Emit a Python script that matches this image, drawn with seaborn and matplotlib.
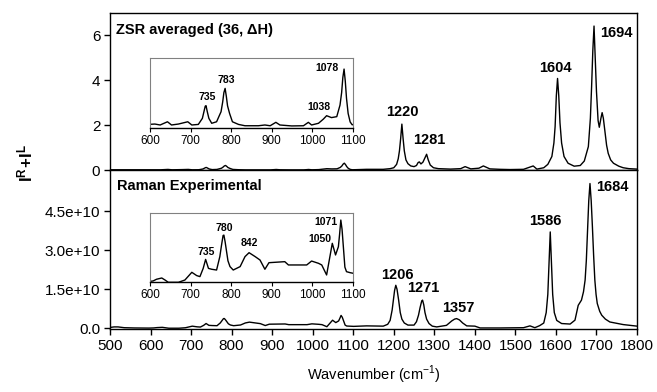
import numpy as np
import pandas as pd
import matplotlib
matplotlib.use("Agg")
import matplotlib.pyplot as plt
import seaborn as sns

# ---------------- data ----------------
zsr_wavenumber = [500, 530, 560, 596, 612, 625, 643, 653, 670, 678, 693, 703, 719, 729, 733, 736,
                  738, 741, 745, 752, 764, 775, 779, 782, 785, 788, 791, 796, 803, 818, 834, 867,
                  883, 896, 910, 920, 949, 978, 990, 998, 1015, 1027, 1035, 1047, 1060, 1068, 1072,
                  1075, 1078, 1081, 1084, 1088, 1093, 1098, 1133, 1174, 1191, 1200, 1207, 1211,
                  1214, 1217, 1220, 1223, 1226, 1230, 1235, 1242, 1250, 1256, 1260, 1263, 1267,
                  1272, 1277, 1281, 1285, 1290, 1298, 1310, 1340, 1365, 1376, 1390, 1410, 1421,
                  1437, 1462, 1487, 1520, 1544, 1553, 1570, 1580, 1590, 1595, 1598, 1601, 1604,
                  1607, 1610, 1614, 1620, 1630, 1645, 1660, 1670, 1680, 1685, 1688, 1691, 1694,
                  1697, 1700, 1704, 1707, 1711, 1714, 1717, 1721, 1725, 1729, 1735, 1742, 1755,
                  1766, 1780, 1800]
zsr_intensity = [0.01, 0.01, 0.012, 0.012, 0.014, 0.009, 0.026, 0.009, 0.014, 0.018, 0.026, 0.009,
                 0.012, 0.044, 0.08, 0.108, 0.111, 0.08, 0.044, 0.018, 0.026, 0.079, 0.13, 0.18,
                 0.202, 0.16, 0.11, 0.07, 0.026, 0.012, 0.005, 0.005, 0.009, 0.005, 0.023, 0.009,
                 0.004, 0.005, 0.023, 0.009, 0.018, 0.040, 0.058, 0.048, 0.053, 0.114, 0.18, 0.26,
                 0.304, 0.24, 0.15, 0.07, 0.025, 0.01, 0.03, 0.03, 0.06, 0.1, 0.25, 0.5, 0.85, 1.4,
                 2.04, 1.4, 0.85, 0.45, 0.28, 0.18, 0.15, 0.2, 0.33, 0.36, 0.27, 0.35, 0.55, 0.70,
                 0.45, 0.22, 0.1, 0.06, 0.04, 0.06, 0.15, 0.05, 0.08, 0.18, 0.05, 0.03, 0.02, 0.03,
                 0.18, 0.04, 0.1, 0.25, 0.6, 1.2, 1.93, 3.3, 4.07, 3.3, 2.1, 1.2, 0.6, 0.3, 0.17,
                 0.2, 0.4, 1.04, 2.3, 3.7, 5.3, 6.4, 5.0, 3.5, 2.2, 1.9, 2.3, 2.55, 2.3, 1.7, 1.1,
                 0.74, 0.45, 0.3, 0.17, 0.1, 0.06, 0.04]

raman_wavenumber = [500, 510, 520, 535, 560, 596, 608, 616, 629, 637, 645, 670, 686, 703, 715, 723,
                    731, 737, 744, 752, 764, 772, 776, 780, 782, 785, 788, 792, 797, 805, 822, 834,
                    844, 859, 871, 883, 893, 916, 932, 941, 965, 986, 998, 1015, 1023, 1035, 1043,
                    1049, 1057, 1064, 1067, 1070, 1073, 1077, 1080, 1084, 1093, 1101, 1133, 1174,
                    1185, 1191, 1196, 1199, 1202, 1205, 1208, 1212, 1216, 1220, 1226, 1235, 1250,
                    1256, 1261, 1265, 1269, 1271, 1274, 1277, 1281, 1287, 1295, 1306, 1330, 1343,
                    1350, 1355, 1362, 1370, 1380, 1400, 1413, 1462, 1520, 1536, 1548, 1560, 1570,
                    1576, 1580, 1583, 1586, 1589, 1592, 1596, 1602, 1614, 1635, 1647, 1655, 1663,
                    1668, 1672, 1675, 1678, 1681, 1684, 1687, 1690, 1693, 1696, 1699, 1702, 1708,
                    1713, 1722, 1733, 1766, 1800]
raman_intensity_e10 = [0.03, 0.05, 0.05, 0.02, 0.01, 0.005, 0.011, 0.024, 0.034, 0.018, 0.0, 0.0,
                       0.018, 0.079, 0.053, 0.045, 0.11, 0.181, 0.110, 0.103, 0.097, 0.203, 0.29,
                       0.37, 0.373, 0.32, 0.255, 0.17, 0.124, 0.097, 0.124, 0.203, 0.234, 0.203,
                       0.176, 0.103, 0.155, 0.160, 0.163, 0.137, 0.137, 0.137, 0.168, 0.150, 0.137,
                       0.058, 0.203, 0.308, 0.216, 0.281, 0.38, 0.492, 0.42, 0.25, 0.12, 0.084,
                       0.076, 0.071, 0.09, 0.08, 0.15, 0.3, 0.7, 1.08, 1.45, 1.65, 1.5, 1.08, 0.6,
                       0.35, 0.2, 0.12, 0.12, 0.25, 0.5, 0.8, 1.05, 1.08, 0.9, 0.6, 0.35, 0.18, 0.08,
                       0.05, 0.11, 0.28, 0.35, 0.37, 0.32, 0.2, 0.09, 0.08, 0.01, 0.01, 0.02, 0.09,
                       0.02, 0.1, 0.2, 0.6, 1.3, 2.5, 3.7, 2.5, 1.3, 0.6, 0.3, 0.18, 0.16, 0.31, 0.88,
                       1.08, 1.4, 1.85, 2.6, 3.77, 4.9, 5.56, 4.9, 3.9, 2.8, 1.85, 1.3, 0.95, 0.65,
                       0.5, 0.35, 0.24, 0.14, 0.08]

# peak annotations: (label, x, y)
zsr_peaks = [("1220", 1220, 2.58), ("1281", 1287, 1.33), ("1604", 1600, 4.53)]
zsr_peak_right = ("1694", 1710, 6.09)
raman_peaks_e10 = [("1206", 1208, 2.04), ("1271", 1272, 1.54), ("1357", 1358, 0.77), ("1586", 1575, 4.12)]
raman_peak_right = ("1684", 1700, 5.42)
zsr_inset_peaks = [("735", 740, 0.158), ("783", 789, 0.246), ("1038", 1016, 0.102), ("1078", 1035, 0.31)]
raman_inset_peaks_e10 = [("735", 738, 0.242), ("780", 783, 0.426), ("842", 845, 0.308),
                         ("1050", 1019, 0.339), ("1071", 1034, 0.479)]

x_ticks = list(range(500, 1801, 100))
zsr_yticks = [0, 2, 4, 6]
raman_yticks_e10 = [0, 1.5, 3.0, 4.5]
raman_ytick_labels = ["0.0", "1.5e+10", "3.0e+10", "4.5e+10"]
inset_xticks = [600, 700, 800, 900, 1000, 1100]

# ---------------- frames ----------------
zsr = pd.DataFrame({"wavenumber": zsr_wavenumber, "intensity": zsr_intensity})
raman = pd.DataFrame({"wavenumber": raman_wavenumber,
                      "intensity": np.array(raman_intensity_e10) * 1e10})

sns.set_style("white")
plt.rcParams["font.family"] = ["Liberation Sans", "DejaVu Sans"]
plt.rcParams["mathtext.fontset"] = "custom"
plt.rcParams["mathtext.rm"] = "Liberation Sans"
plt.rcParams["mathtext.bf"] = "Liberation Sans:bold"
for k in ("text.color", "axes.labelcolor", "xtick.color", "ytick.color", "axes.edgecolor"):
    plt.rcParams[k] = "black"

W, H = 657, 392
fig = plt.figure(figsize=(W / 100, H / 100), dpi=100)

def fax(l, t, r, b):
    return fig.add_axes([l / W, 1 - b / H, (r - l) / W, (b - t) / H])

ax_top = fax(110, 13, 637, 170)
ax_bot = fax(110, 170, 637, 329)

lw = 1.0
sns.lineplot(data=zsr, x="wavenumber", y="intensity", ax=ax_top, color="black",
             linewidth=lw, estimator=None, sort=False)
sns.lineplot(data=raman, x="wavenumber", y="intensity", ax=ax_bot, color="black",
             linewidth=lw, estimator=None, sort=False)

for ax in (ax_top, ax_bot):
    ax.set_xlim(500, 1800)
    ax.set_xlabel("")
    ax.set_ylabel("")
    for s in ax.spines.values():
        s.set_color("black")
        s.set_linewidth(1.0)
    ax.tick_params(axis="y", direction="out", length=4, width=1, color="black",
                   labelsize=11, pad=3, left=True)

ax_top.set_ylim(0, 6.98)
ax_top.set_yticks(zsr_yticks)
ax_top.set_yticklabels([str(v) for v in zsr_yticks])
ax_top.set_xticks(x_ticks)
ax_top.tick_params(axis="x", bottom=False, labelbottom=False)

ax_bot.set_ylim(-0.03e10, 6.08e10)
ax_bot.set_yticks([v * 1e10 for v in raman_yticks_e10])
ax_bot.set_yticklabels(raman_ytick_labels)
ax_bot.set_xticks(x_ticks)
ax_bot.set_xticklabels([str(v) for v in x_ticks])
ax_bot.tick_params(axis="x", direction="out", length=4, width=1, bottom=True,
                   labelsize=11, pad=3)
ax_bot.set_xlabel("Wavenumber (cm$^{-1}$)", fontsize=10.5, labelpad=8)

ax_top.text(0.011, 0.89, "ZSR averaged (36, \u0394H)", transform=ax_top.transAxes,
            fontsize=10.5, fontweight="bold", ha="left", va="center")
ax_bot.text(0.013, 0.90, "Raman Experimental", transform=ax_bot.transAxes,
            fontsize=10.5, fontweight="bold", ha="left", va="center")

for lab, x, y in zsr_peaks:
    ax_top.text(x, y, lab, fontsize=10.5, fontweight="bold", ha="center", va="center")
ax_top.text(zsr_peak_right[1], zsr_peak_right[2], zsr_peak_right[0], fontsize=10.5,
            fontweight="bold", ha="left", va="center")
for lab, x, y in raman_peaks_e10:
    ax_bot.text(x, y * 1e10, lab, fontsize=10.5, fontweight="bold", ha="center", va="center")
ax_bot.text(raman_peak_right[1], raman_peak_right[2] * 1e10, raman_peak_right[0], fontsize=10.5,
            fontweight="bold", ha="left", va="center")

fig.text(25 / W, 1 - 163 / H, r"$\mathbf{I^R\!+\!I^L}$", rotation=90, fontsize=12,
         ha="center", va="center")

# ---------------- insets ----------------
in_top = fax(150, 57.7, 353, 127.7)
in_bot = fax(150, 212.7, 353, 282.3)

sns.lineplot(data=zsr, x="wavenumber", y="intensity", ax=in_top, color="black",
             linewidth=lw, estimator=None, sort=False)
sns.lineplot(data=raman, x="wavenumber", y="intensity", ax=in_bot, color="black",
             linewidth=lw, estimator=None, sort=False)
in_top.set_ylim(-0.0053, 0.364)
in_bot.set_ylim(0, 0.55e10)

for ax in (in_top, in_bot):
    ax.set_xlim(600, 1100)
    ax.set_xlabel("")
    ax.set_ylabel("")
    ax.set_yticks([])
    ax.set_xticks(inset_xticks)
    ax.set_xticklabels([str(v) for v in inset_xticks])
    ax.tick_params(axis="x", direction="out", length=3, width=0.8, bottom=True,
                   labelsize=8.5, pad=2)
    for side in ("top", "left", "right"):
        ax.spines[side].set_color("#808080")
        ax.spines[side].set_linewidth(0.8)
    ax.spines["bottom"].set_color("black")
    ax.spines["bottom"].set_linewidth(1.0)
    ax.patch.set_alpha(1.0)

for lab, x, y in zsr_inset_peaks:
    in_top.text(x, y, lab, fontsize=7.5, fontweight="bold", ha="center", va="center")
for lab, x, y in raman_inset_peaks_e10:
    in_bot.text(x, y * 1e10, lab, fontsize=7.5, fontweight="bold", ha="center", va="center")

fig.savefig("out.png", dpi=100)
